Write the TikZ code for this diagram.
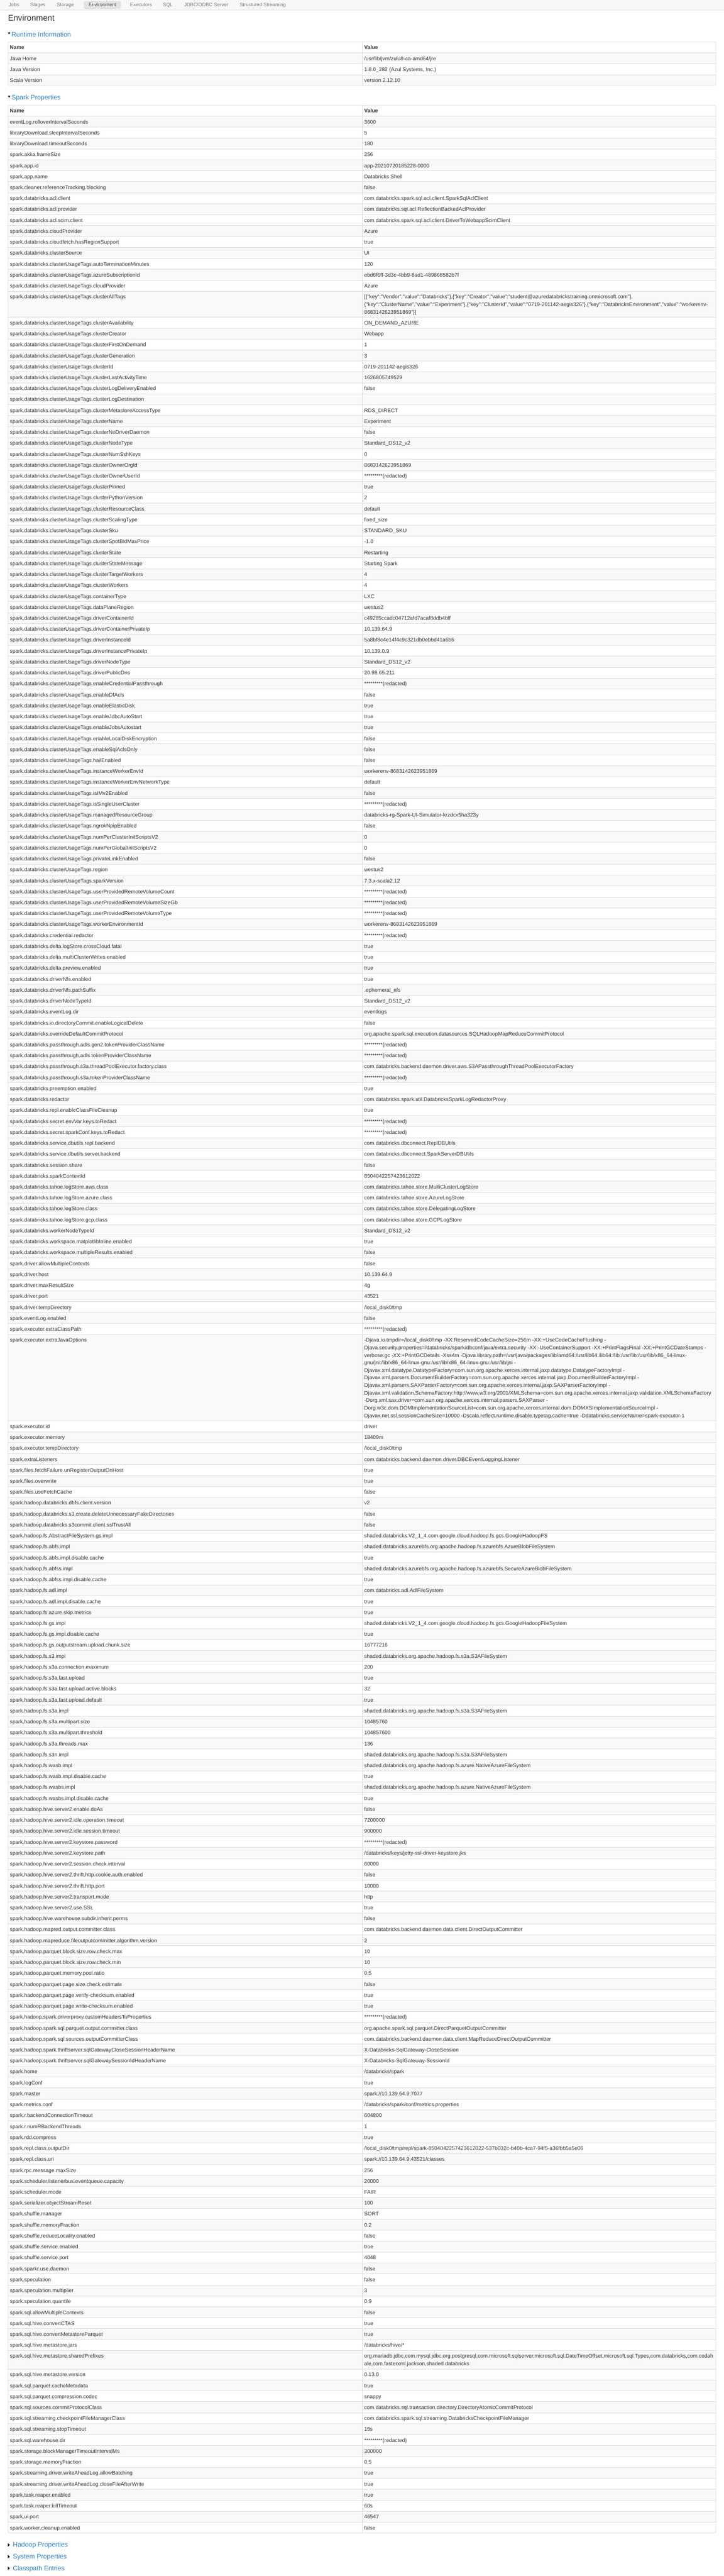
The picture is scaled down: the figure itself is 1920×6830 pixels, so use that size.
\documentclass[tikz,border=0pt]{standalone}
\usepackage{fontspec}
\setmainfont{Liberation Sans}[Ligatures=TeXOff]
\definecolor{bodytext}{HTML}{333333}
\definecolor{stripebg}{HTML}{F9F9F9}
\definecolor{gridc}{HTML}{DDDDDD}
\definecolor{navbg}{HTML}{F8F8F8}
\definecolor{navline}{HTML}{DEDEDE}
\definecolor{pillbg}{HTML}{E3E3E3}
\definecolor{navtext}{HTML}{7A7A7A}
\definecolor{linkc}{HTML}{2F80C4}
\newcount\rtop
\newcount\ridx
\newcount\ttop
\def\tp{t}
\newcommand\tabstart[2]{\def\tp{#1}\global\rtop=#2\relax\global\ttop=#2\relax\global\ridx=0\relax}
\newcommand\thead[2]{%
  \node[hdr] (\tp hn) at (26,\the\numexpr\rtop+20\relax) {#1};
  \node[hdr] (\tp hv) at (966,\the\numexpr\rtop+20\relax) {#2};
  \global\advance\rtop by 29\relax}
\newcommand\prow[3][1]{%
  \global\advance\ridx by 1\relax
  \edef\rh{\the\numexpr9+20*#1\relax}%
  \ifodd\ridx \fill[fill=stripebg] (21,\the\rtop) rectangle (1899,\the\numexpr\rtop+\rh\relax);\fi
  \draw[grid] (21,\the\rtop) -- (1899,\the\rtop);
  \node[txt] (\tp n\the\ridx) at (26,\the\numexpr\rtop+20\relax) {#2};
  \node[txt] (\tp v\the\ridx) at (966,\the\numexpr\rtop+20\relax) {#3};
  \global\advance\rtop by \rh\relax}
\newcommand\tabend{%
  \draw[grid] (961,\the\ttop) -- (961,\the\rtop);
  \draw[grid,rounded corners=4pt] (21,\the\ttop) rectangle (1899,\the\rtop);}
\newcommand\ml[1]{\parbox[t]{1600pt}{#1}}
\newcommand\red{*********(redacted)}
\newcommand\cut{spark.databricks.clusterUsageTags.}
\begin{document}
\begin{tikzpicture}[x=1pt,y=-1pt,
  txt/.style={anchor=base west,inner sep=0pt,font=\fontsize{14}{20}\selectfont,text=bodytext},
  hdr/.style={txt,font=\fontsize{14}{20}\selectfont\bfseries},
  grid/.style={draw=gridc,line width=1pt},
  navlab/.style={anchor=base west,inner sep=0pt,font=\fontsize{13}{18}\selectfont,text=navtext},
  htitle/.style={anchor=base west,inner sep=0pt,font=\fontsize{22}{26}\selectfont,text=bodytext},
  hsec/.style={anchor=base west,inner sep=0pt,font=\fontsize{17.5}{22}\selectfont,text=linkc},
  arrowc/.style={fill=black}]
\useasboundingbox (0,0) rectangle (1920,6830);
\fill[white] (0,0) rectangle (1920,6830);
% navbar
\fill[navbg] (0,0) rectangle (1920,26);
\draw[draw=navline,line width=1pt] (0,26.5) -- (1920,26.5);
\fill[pillbg,rounded corners=4pt] (222,3) rectangle (321,23);
\node[navlab] (nj) at (23,17) {Jobs};
\node[navlab] (ns) at (80,17) {Stages};
\node[navlab] (nst) at (150.6,17) {Storage};
\node[navlab,text=black!65] (ne) at (235,17) {Environment};
\node[navlab] (nex) at (345,17) {Executors};
\node[navlab] (nsql) at (432,17) {SQL};
\node[navlab] (njd) at (488.6,17) {JDBC/ODBC Server};
\node[navlab] (nss) at (635.5,17) {Structured Streaming};
% title
\node[htitle] (title) at (21,55) {Environment};
% runtime information
\fill[arrowc] (21,86) -- (27.5,86) -- (24.25,91) -- cycle;
\node[hsec] (rtinfo) at (30.5,97) {Runtime Information};
\tabstart{rt}{111}
\thead{Name}{Value}
\prow{Java Home}{/usr/lib/jvm/zulu8-ca-amd64/jre}
\prow{Java Version}{1.8.0\_282 (Azul Systems, Inc.)}
\prow{Scala Version}{version 2.12.10}
\tabend
% spark properties
\fill[arrowc] (21,254) -- (27.5,254) -- (24.25,259) -- cycle;
\node[hsec] (spprop) at (30.5,265) {Spark Properties};
\tabstart{sp}{279}
\thead{Name}{Value}
\prow{eventLog.rolloverIntervalSeconds}{3600}
\prow{libraryDownload.sleepIntervalSeconds}{5}
\prow{libraryDownload.timeoutSeconds}{180}
\prow{spark.akka.frameSize}{256}
\prow{spark.app.id}{app-20210720185228-0000}
\prow{spark.app.name}{Databricks Shell}
\prow{spark.cleaner.referenceTracking.blocking}{false}
\prow{spark.databricks.acl.client}{com.databricks.spark.sql.acl.client.SparkSqlAclClient}
\prow{spark.databricks.acl.provider}{com.databricks.sql.acl.ReflectionBackedAclProvider}
\prow{spark.databricks.acl.scim.client}{com.databricks.spark.sql.acl.client.DriverToWebappScimClient}
\prow{spark.databricks.cloudProvider}{Azure}
\prow{spark.databricks.cloudfetch.hasRegionSupport}{true}
\prow{spark.databricks.clusterSource}{UI}
\prow{\cut autoTerminationMinutes}{120}
\prow{\cut azureSubscriptionId}{ebd6f6ff-3d3c-4bb9-8ad1-489868582b7f}
\prow{\cut cloudProvider}{Azure}
\prow[3]{\cut clusterAllTags}{\ml{[\{"key":"Vendor","value":"Databricks"\},\{"key":"Creator","value":"student@azuredatabrickstraining.onmicrosoft.com"\},\\
\{"key":"ClusterName","value":"Experiment"\},\{"key":"ClusterId","value":"0719-201142-aegis326"\},\{"key":"DatabricksEnvironment","value":"workerenv-\\
8683142623951869"\}]}}
\prow{\cut clusterAvailability}{ON\_DEMAND\_AZURE}
\prow{\cut clusterCreator}{Webapp}
\prow{\cut clusterFirstOnDemand}{1}
\prow{\cut clusterGeneration}{3}
\prow{\cut clusterId}{0719-201142-aegis326}
\prow{\cut clusterLastActivityTime}{1626805749529}
\prow{\cut clusterLogDeliveryEnabled}{false}
\prow{\cut clusterLogDestination}{}
\prow{\cut clusterMetastoreAccessType}{RDS\_DIRECT}
\prow{\cut clusterName}{Experiment}
\prow{\cut clusterNoDriverDaemon}{false}
\prow{\cut clusterNodeType}{Standard\_DS12\_v2}
\prow{\cut clusterNumSshKeys}{0}
\prow{\cut clusterOwnerOrgId}{8683142623951869}
\prow{\cut clusterOwnerUserId}{\red}
\prow{\cut clusterPinned}{true}
\prow{\cut clusterPythonVersion}{2}
\prow{\cut clusterResourceClass}{default}
\prow{\cut clusterScalingType}{fixed\_size}
\prow{\cut clusterSku}{STANDARD\_SKU}
\prow{\cut clusterSpotBidMaxPrice}{-1.0}
\prow{\cut clusterState}{Restarting}
\prow{\cut clusterStateMessage}{Starting Spark}
\prow{\cut clusterTargetWorkers}{4}
\prow{\cut clusterWorkers}{4}
\prow{\cut containerType}{LXC}
\prow{\cut dataPlaneRegion}{westus2}
\prow{\cut driverContainerId}{c49285ccadc04712afd7acaf8ddb4bff}
\prow{\cut driverContainerPrivateIp}{10.139.64.9}
\prow{\cut driverInstanceId}{5a8bf8c4e14f4c9c321db0ebbd41a6b6}
\prow{\cut driverInstancePrivateIp}{10.139.0.9}
\prow{\cut driverNodeType}{Standard\_DS12\_v2}
\prow{\cut driverPublicDns}{20.98.65.211}
\prow{\cut enableCredentialPassthrough}{\red}
\prow{\cut enableDfAcls}{false}
\prow{\cut enableElasticDisk}{true}
\prow{\cut enableJdbcAutoStart}{true}
\prow{\cut enableJobsAutostart}{true}
\prow{\cut enableLocalDiskEncryption}{false}
\prow{\cut enableSqlAclsOnly}{false}
\prow{\cut hailEnabled}{false}
\prow{\cut instanceWorkerEnvId}{workerenv-8683142623951869}
\prow{\cut instanceWorkerEnvNetworkType}{default}
\prow{\cut isIMv2Enabled}{false}
\prow{\cut isSingleUserCluster}{\red}
\prow{\cut managedResourceGroup}{databricks-rg-Spark-UI-Simulator-krzdcx5ha323y}
\prow{\cut ngrokNpipEnabled}{false}
\prow{\cut numPerClusterInitScriptsV2}{0}
\prow{\cut numPerGlobalInitScriptsV2}{0}
\prow{\cut privateLinkEnabled}{false}
\prow{\cut region}{westus2}
\prow{\cut sparkVersion}{7.3.x-scala2.12}
\prow{\cut userProvidedRemoteVolumeCount}{\red}
\prow{\cut userProvidedRemoteVolumeSizeGb}{\red}
\prow{\cut userProvidedRemoteVolumeType}{\red}
\prow{\cut workerEnvironmentId}{workerenv-8683142623951869}
\prow{spark.databricks.credential.redactor}{\red}
\prow{spark.databricks.delta.logStore.crossCloud.fatal}{true}
\prow{spark.databricks.delta.multiClusterWrites.enabled}{true}
\prow{spark.databricks.delta.preview.enabled}{true}
\prow{spark.databricks.driverNfs.enabled}{true}
\prow{spark.databricks.driverNfs.pathSuffix}{.ephemeral\_nfs}
\prow{spark.databricks.driverNodeTypeId}{Standard\_DS12\_v2}
\prow{spark.databricks.eventLog.dir}{eventlogs}
\prow{spark.databricks.io.directoryCommit.enableLogicalDelete}{false}
\prow{spark.databricks.overrideDefaultCommitProtocol}{org.apache.spark.sql.execution.datasources.SQLHadoopMapReduceCommitProtocol}
\prow{spark.databricks.passthrough.adls.gen2.tokenProviderClassName}{\red}
\prow{spark.databricks.passthrough.adls.tokenProviderClassName}{\red}
\prow{spark.databricks.passthrough.s3a.threadPoolExecutor.factory.class}{com.databricks.backend.daemon.driver.aws.S3APassthroughThreadPoolExecutorFactory}
\prow{spark.databricks.passthrough.s3a.tokenProviderClassName}{\red}
\prow{spark.databricks.preemption.enabled}{true}
\prow{spark.databricks.redactor}{com.databricks.spark.util.DatabricksSparkLogRedactorProxy}
\prow{spark.databricks.repl.enableClassFileCleanup}{true}
\prow{spark.databricks.secret.envVar.keys.toRedact}{\red}
\prow{spark.databricks.secret.sparkConf.keys.toRedact}{\red}
\prow{spark.databricks.service.dbutils.repl.backend}{com.databricks.dbconnect.ReplDBUtils}
\prow{spark.databricks.service.dbutils.server.backend}{com.databricks.dbconnect.SparkServerDBUtils}
\prow{spark.databricks.session.share}{false}
\prow{spark.databricks.sparkContextId}{8504042257423612022}
\prow{spark.databricks.tahoe.logStore.aws.class}{com.databricks.tahoe.store.MultiClusterLogStore}
\prow{spark.databricks.tahoe.logStore.azure.class}{com.databricks.tahoe.store.AzureLogStore}
\prow{spark.databricks.tahoe.logStore.class}{com.databricks.tahoe.store.DelegatingLogStore}
\prow{spark.databricks.tahoe.logStore.gcp.class}{com.databricks.tahoe.store.GCPLogStore}
\prow{spark.databricks.workerNodeTypeId}{Standard\_DS12\_v2}
\prow{spark.databricks.workspace.matplotlibInline.enabled}{true}
\prow{spark.databricks.workspace.multipleResults.enabled}{false}
\prow{spark.driver.allowMultipleContexts}{false}
\prow{spark.driver.host}{10.139.64.9}
\prow{spark.driver.maxResultSize}{4g}
\prow{spark.driver.port}{43521}
\prow{spark.driver.tempDirectory}{/local\_disk0/tmp}
\prow{spark.eventLog.enabled}{false}
\prow{spark.executor.extraClassPath}{\red}
\prow[11]{spark.executor.extraJavaOptions}{\ml{-Djava.io.tmpdir=/local\_disk0/tmp -XX:ReservedCodeCacheSize=256m -XX:+UseCodeCacheFlushing -\\
Djava.security.properties=/databricks/spark/dbconf/java/extra.security -XX:-UseContainerSupport -XX:+PrintFlagsFinal -XX:+PrintGCDateStamps -\\
verbose:gc -XX:+PrintGCDetails -Xss4m -Djava.library.path=/usr/java/packages/lib/amd64:/usr/lib64:/lib64:/lib:/usr/lib:/usr/lib/x86\_64-linux-\\
gnu/jni:/lib/x86\_64-linux-gnu:/usr/lib/x86\_64-linux-gnu:/usr/lib/jni -\\
Djavax.xml.datatype.DatatypeFactory=com.sun.org.apache.xerces.internal.jaxp.datatype.DatatypeFactoryImpl -\\
Djavax.xml.parsers.DocumentBuilderFactory=com.sun.org.apache.xerces.internal.jaxp.DocumentBuilderFactoryImpl -\\
Djavax.xml.parsers.SAXParserFactory=com.sun.org.apache.xerces.internal.jaxp.SAXParserFactoryImpl -\\
Djavax.xml.validation.SchemaFactory:http://www.w3.org/2001/XMLSchema=com.sun.org.apache.xerces.internal.jaxp.validation.XMLSchemaFactory\\
-Dorg.xml.sax.driver=com.sun.org.apache.xerces.internal.parsers.SAXParser -\\
Dorg.w3c.dom.DOMImplementationSourceList=com.sun.org.apache.xerces.internal.dom.DOMXSImplementationSourceImpl -\\
Djavax.net.ssl.sessionCacheSize=10000 -Dscala.reflect.runtime.disable.typetag.cache=true -Ddatabricks.serviceName=spark-executor-1}}
\prow{spark.executor.id}{driver}
\prow{spark.executor.memory}{18409m}
\prow{spark.executor.tempDirectory}{/local\_disk0/tmp}
\prow{spark.extraListeners}{com.databricks.backend.daemon.driver.DBCEventLoggingListener}
\prow{spark.files.fetchFailure.unRegisterOutputOnHost}{true}
\prow{spark.files.overwrite}{true}
\prow{spark.files.useFetchCache}{false}
\prow{spark.hadoop.databricks.dbfs.client.version}{v2}
\prow{spark.hadoop.databricks.s3.create.deleteUnnecessaryFakeDirectories}{false}
\prow{spark.hadoop.databricks.s3commit.client.sslTrustAll}{false}
\prow{spark.hadoop.fs.AbstractFileSystem.gs.impl}{shaded.databricks.V2\_1\_4.com.google.cloud.hadoop.fs.gcs.GoogleHadoopFS}
\prow{spark.hadoop.fs.abfs.impl}{shaded.databricks.azurebfs.org.apache.hadoop.fs.azurebfs.AzureBlobFileSystem}
\prow{spark.hadoop.fs.abfs.impl.disable.cache}{true}
\prow{spark.hadoop.fs.abfss.impl}{shaded.databricks.azurebfs.org.apache.hadoop.fs.azurebfs.SecureAzureBlobFileSystem}
\prow{spark.hadoop.fs.abfss.impl.disable.cache}{true}
\prow{spark.hadoop.fs.adl.impl}{com.databricks.adl.AdlFileSystem}
\prow{spark.hadoop.fs.adl.impl.disable.cache}{true}
\prow{spark.hadoop.fs.azure.skip.metrics}{true}
\prow{spark.hadoop.fs.gs.impl}{shaded.databricks.V2\_1\_4.com.google.cloud.hadoop.fs.gcs.GoogleHadoopFileSystem}
\prow{spark.hadoop.fs.gs.impl.disable.cache}{true}
\prow{spark.hadoop.fs.gs.outputstream.upload.chunk.size}{16777216}
\prow{spark.hadoop.fs.s3.impl}{shaded.databricks.org.apache.hadoop.fs.s3a.S3AFileSystem}
\prow{spark.hadoop.fs.s3a.connection.maximum}{200}
\prow{spark.hadoop.fs.s3a.fast.upload}{true}
\prow{spark.hadoop.fs.s3a.fast.upload.active.blocks}{32}
\prow{spark.hadoop.fs.s3a.fast.upload.default}{true}
\prow{spark.hadoop.fs.s3a.impl}{shaded.databricks.org.apache.hadoop.fs.s3a.S3AFileSystem}
\prow{spark.hadoop.fs.s3a.multipart.size}{10485760}
\prow{spark.hadoop.fs.s3a.multipart.threshold}{104857600}
\prow{spark.hadoop.fs.s3a.threads.max}{136}
\prow{spark.hadoop.fs.s3n.impl}{shaded.databricks.org.apache.hadoop.fs.s3a.S3AFileSystem}
\prow{spark.hadoop.fs.wasb.impl}{shaded.databricks.org.apache.hadoop.fs.azure.NativeAzureFileSystem}
\prow{spark.hadoop.fs.wasb.impl.disable.cache}{true}
\prow{spark.hadoop.fs.wasbs.impl}{shaded.databricks.org.apache.hadoop.fs.azure.NativeAzureFileSystem}
\prow{spark.hadoop.fs.wasbs.impl.disable.cache}{true}
\prow{spark.hadoop.hive.server2.enable.doAs}{false}
\prow{spark.hadoop.hive.server2.idle.operation.timeout}{7200000}
\prow{spark.hadoop.hive.server2.idle.session.timeout}{900000}
\prow{spark.hadoop.hive.server2.keystore.password}{\red}
\prow{spark.hadoop.hive.server2.keystore.path}{/databricks/keys/jetty-ssl-driver-keystore.jks}
\prow{spark.hadoop.hive.server2.session.check.interval}{60000}
\prow{spark.hadoop.hive.server2.thrift.http.cookie.auth.enabled}{false}
\prow{spark.hadoop.hive.server2.thrift.http.port}{10000}
\prow{spark.hadoop.hive.server2.transport.mode}{http}
\prow{spark.hadoop.hive.server2.use.SSL}{true}
\prow{spark.hadoop.hive.warehouse.subdir.inherit.perms}{false}
\prow{spark.hadoop.mapred.output.committer.class}{com.databricks.backend.daemon.data.client.DirectOutputCommitter}
\prow{spark.hadoop.mapreduce.fileoutputcommitter.algorithm.version}{2}
\prow{spark.hadoop.parquet.block.size.row.check.max}{10}
\prow{spark.hadoop.parquet.block.size.row.check.min}{10}
\prow{spark.hadoop.parquet.memory.pool.ratio}{0.5}
\prow{spark.hadoop.parquet.page.size.check.estimate}{false}
\prow{spark.hadoop.parquet.page.verify-checksum.enabled}{true}
\prow{spark.hadoop.parquet.page.write-checksum.enabled}{true}
\prow{spark.hadoop.spark.driverproxy.customHeadersToProperties}{\red}
\prow{spark.hadoop.spark.sql.parquet.output.committer.class}{org.apache.spark.sql.parquet.DirectParquetOutputCommitter}
\prow{spark.hadoop.spark.sql.sources.outputCommitterClass}{com.databricks.backend.daemon.data.client.MapReduceDirectOutputCommitter}
\prow{spark.hadoop.spark.thriftserver.sqlGatewayCloseSessionHeaderName}{X-Databricks-SqlGateway-CloseSession}
\prow{spark.hadoop.spark.thriftserver.sqlGatewaySessionIdHeaderName}{X-Databricks-SqlGateway-SessionId}
\prow{spark.home}{/databricks/spark}
\prow{spark.logConf}{true}
\prow{spark.master}{spark://10.139.64.9:7077}
\prow{spark.metrics.conf}{/databricks/spark/conf/metrics.properties}
\prow{spark.r.backendConnectionTimeout}{604800}
\prow{spark.r.numRBackendThreads}{1}
\prow{spark.rdd.compress}{true}
\prow{spark.repl.class.outputDir}{/local\_disk0/tmp/repl/spark-8504042257423612022-537b032c-b40b-4ca7-94f5-a36fbb5a5e06}
\prow{spark.repl.class.uri}{spark://10.139.64.9:43521/classes}
\prow{spark.rpc.message.maxSize}{256}
\prow{spark.scheduler.listenerbus.eventqueue.capacity}{20000}
\prow{spark.scheduler.mode}{FAIR}
\prow{spark.serializer.objectStreamReset}{100}
\prow{spark.shuffle.manager}{SORT}
\prow{spark.shuffle.memoryFraction}{0.2}
\prow{spark.shuffle.reduceLocality.enabled}{false}
\prow{spark.shuffle.service.enabled}{true}
\prow{spark.shuffle.service.port}{4048}
\prow{spark.sparkr.use.daemon}{false}
\prow{spark.speculation}{false}
\prow{spark.speculation.multiplier}{3}
\prow{spark.speculation.quantile}{0.9}
\prow{spark.sql.allowMultipleContexts}{false}
\prow{spark.sql.hive.convertCTAS}{true}
\prow{spark.sql.hive.convertMetastoreParquet}{true}
\prow{spark.sql.hive.metastore.jars}{/databricks/hive/*}
\prow[2]{spark.sql.hive.metastore.sharedPrefixes}{\ml{org.mariadb.jdbc,com.mysql.jdbc,org.postgresql,com.microsoft.sqlserver,microsoft.sql.DateTimeOffset,microsoft.sql.Types,com.databricks,com.codah\\
ale,com.fasterxml.jackson,shaded.databricks}}
\prow{spark.sql.hive.metastore.version}{0.13.0}
\prow{spark.sql.parquet.cacheMetadata}{true}
\prow{spark.sql.parquet.compression.codec}{snappy}
\prow{spark.sql.sources.commitProtocolClass}{com.databricks.sql.transaction.directory.DirectoryAtomicCommitProtocol}
\prow{spark.sql.streaming.checkpointFileManagerClass}{com.databricks.spark.sql.streaming.DatabricksCheckpointFileManager}
\prow{spark.sql.streaming.stopTimeout}{15s}
\prow{spark.sql.warehouse.dir}{\red}
\prow{spark.storage.blockManagerTimeoutIntervalMs}{300000}
\prow{spark.storage.memoryFraction}{0.5}
\prow{spark.streaming.driver.writeAheadLog.allowBatching}{true}
\prow{spark.streaming.driver.writeAheadLog.closeFileAfterWrite}{true}
\prow{spark.task.reaper.enabled}{true}
\prow{spark.task.reaper.killTimeout}{60s}
\prow{spark.ui.port}{46547}
\prow{spark.worker.cleanup.enabled}{false}
\tabend
% collapsed sections
\fill[arrowc] (21,6743) -- (26,6747.5) -- (21,6752) -- cycle;
\node[hsec] (hadoop) at (34,6753) {Hadoop Properties};
\fill[arrowc] (21,6774) -- (26,6778.5) -- (21,6783) -- cycle;
\node[hsec] (sysprop) at (34,6784) {System Properties};
\fill[arrowc] (21,6805) -- (26,6809.5) -- (21,6814) -- cycle;
\node[hsec] (cpath) at (34,6815) {Classpath Entries};
\end{tikzpicture}
\end{document}
